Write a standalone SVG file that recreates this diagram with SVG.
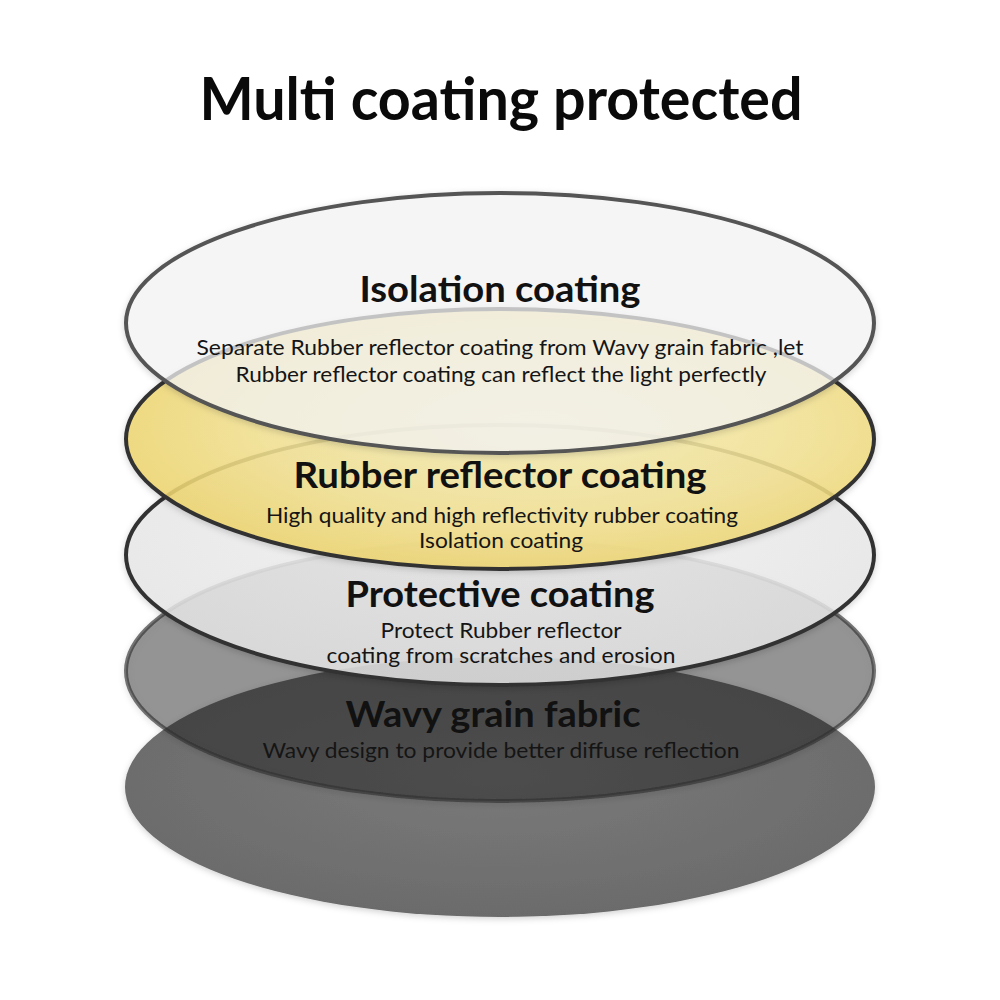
<svg xmlns="http://www.w3.org/2000/svg" width="1000" height="1000" viewBox="0 0 1000 1000">
<style>
.title{font-family:Lato,"Open Sans","Liberation Sans",sans-serif;font-weight:700;font-size:60px;fill:#0a0a0a}
.head{font-family:Lato,"Open Sans","Liberation Sans",sans-serif;font-weight:700;font-size:37px;fill:#111}
.body{font-family:Lato,"Open Sans","Liberation Sans",sans-serif;font-weight:400;font-size:22px;fill:#151515}
.disc{filter:url(#sh)}
</style>
<defs>
<filter id="sh" x="-10%" y="-20%" width="120%" height="140%">
<feDropShadow dx="0" dy="2" stdDeviation="3" flood-color="#000" flood-opacity="0.18"/>
</filter>
<radialGradient id="gY" cx="0.55" cy="0.45" r="0.6">
<stop offset="0" stop-color="#f7eeb6"/>
<stop offset="0.6" stop-color="#f3e293"/>
<stop offset="1" stop-color="#eed46a"/>
</radialGradient>
<radialGradient id="gB" cx="0.5" cy="0.45" r="0.6">
<stop offset="0" stop-color="#7a7a7a"/>
<stop offset="1" stop-color="#6a6a6a"/>
</radialGradient>
<radialGradient id="gP" cx="0.5" cy="0.4" r="0.6">
<stop offset="0" stop-color="#f4f4f4"/>
<stop offset="1" stop-color="#e6e6e6"/>
</radialGradient>
</defs>
<rect width="1000" height="1000" fill="#ffffff"/>
<text class="title" x="501" y="120" text-anchor="middle" textLength="603" lengthAdjust="spacingAndGlyphs">Multi coating protected</text>

<g id="layer-wavy">
<ellipse class="disc" cx="500" cy="787" rx="375" ry="130" fill="url(#gB)"/>
</g>
<g id="layer-dark">
<ellipse class="disc" cx="500" cy="671" rx="374" ry="130" fill="#1e1e1e" fill-opacity="0.42" stroke="#303030" stroke-opacity="0.65" stroke-width="4"/>
</g>
<g id="layer-protective">
<ellipse class="disc" cx="500" cy="555" rx="374" ry="130" fill="url(#gP)" fill-opacity="0.84" stroke="#333" stroke-width="4"/>
</g>
<g id="layer-rubber">
<ellipse class="disc" cx="500" cy="439" rx="374" ry="130" fill="url(#gY)" fill-opacity="0.86" stroke="#333" stroke-width="4"/>
</g>
<g id="layer-isolation">
<ellipse class="disc" cx="500" cy="323" rx="374" ry="130" fill="#f7f7f7" fill-opacity="0.72" stroke="#555" stroke-width="4"/>
</g>

<g id="labels">
<text class="head" x="500" y="302" text-anchor="middle" textLength="281" lengthAdjust="spacingAndGlyphs">Isolation coating</text>
<text class="body" x="500" y="355" text-anchor="middle" textLength="607" lengthAdjust="spacingAndGlyphs">Separate Rubber reflector coating from Wavy grain fabric ,let</text>
<text class="body" x="501" y="382" text-anchor="middle" textLength="531" lengthAdjust="spacingAndGlyphs">Rubber reflector coating can reflect the light perfectly</text>

<text class="head" x="500" y="488" text-anchor="middle" textLength="413" lengthAdjust="spacingAndGlyphs">Rubber reflector coating</text>
<text class="body" x="502" y="523" text-anchor="middle" textLength="472" lengthAdjust="spacingAndGlyphs">High quality and high reflectivity rubber coating</text>
<text class="body" x="501" y="548" text-anchor="middle" textLength="164" lengthAdjust="spacingAndGlyphs">Isolation coating</text>

<text class="head" x="500" y="607" text-anchor="middle" textLength="309" lengthAdjust="spacingAndGlyphs">Protective coating</text>
<text class="body" x="501" y="638" text-anchor="middle" textLength="241" lengthAdjust="spacingAndGlyphs">Protect Rubber reflector</text>
<text class="body" x="501" y="663" text-anchor="middle" textLength="349" lengthAdjust="spacingAndGlyphs">coating from scratches and erosion</text>

<text class="head" x="493" y="727" text-anchor="middle" textLength="295" lengthAdjust="spacingAndGlyphs">Wavy grain fabric</text>
<text class="body" x="501" y="758" text-anchor="middle" textLength="477" lengthAdjust="spacingAndGlyphs">Wavy design to provide better diffuse reflection</text>
</g>
<g id="connectors"/>
</svg>
